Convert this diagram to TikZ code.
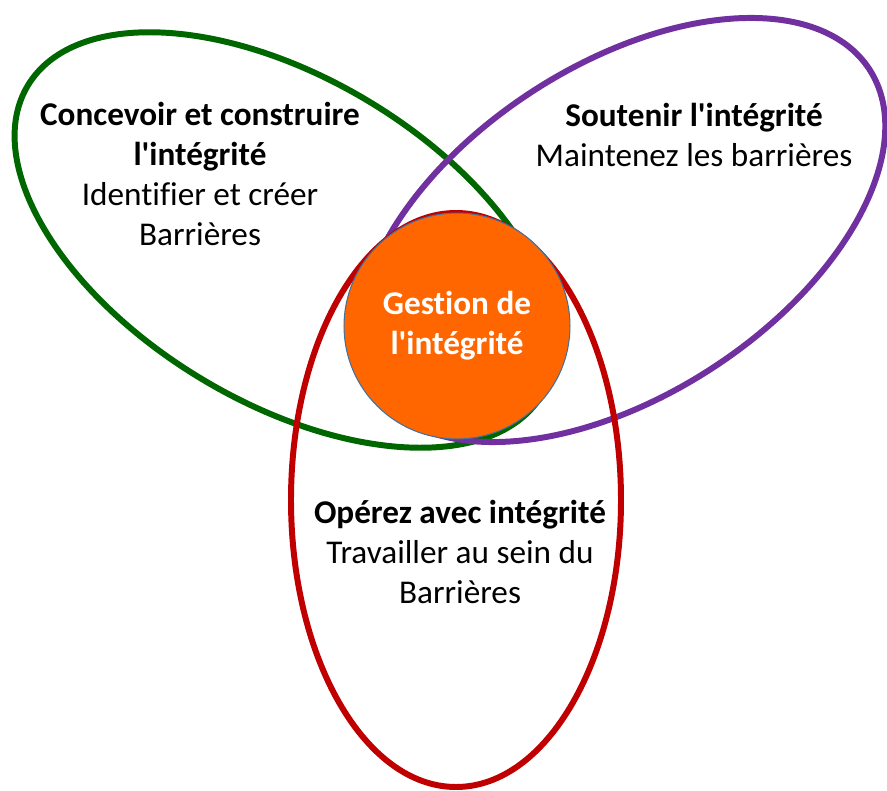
\documentclass[tikz,border=0pt]{standalone}
\usepackage{fontspec}
\setmainfont{Carlito}[Ligatures={NoCommon}]
\usepackage{tikz}
\usetikzlibrary{shapes}
\definecolor{designgreen}{HTML}{006600}
\definecolor{sustainpurple}{HTML}{7030A0}
\definecolor{operatered}{HTML}{C00000}
\definecolor{coreorange}{HTML}{FF6600}
\definecolor{coreedge}{HTML}{41719C}
\tikzstyle{ring}=[line width=3.4pt]
\tikzstyle{ringtext}=[align=center,inner sep=0pt,font=\fontsize{18.9}{22.7}\selectfont]
\tikzstyle{hub}=[circle,fill=coreorange,draw=coreedge,line width=0.6pt,minimum size=4.52cm,inner sep=0pt,text=white,align=center,font=\fontsize{18.9}{22.7}\selectfont\bfseries]

\begin{document}
\begin{tikzpicture}[x=0.02cm,y=-0.02cm]
    \useasboundingbox (0,0) rectangle (887,791);
    % Draw the three rings first
    \draw[ring,designgreen,rotate around={-31:(285,240)}] (285,240) ellipse (300 and 162);
    \draw[ring,sustainpurple,rotate around={33:(622,230)}] (622,230) ellipse (295 and 165);
    \draw[ring,operatered] (456,500) ellipse (165 and 287);
    % Then the hub on top
    \node[hub] (core) at (457,326) {Gestion de\\l\textquotesingle intégrité};
    % Texts inside the rings
    \node[ringtext] (design) at (200,174) {\textbf{Concevoir et construire}\\\textbf{l\textquotesingle intégrité}\\Identifier et créer\\Barrières};
    \node[ringtext] (sustain) at (694,135) {\textbf{Soutenir l\textquotesingle intégrité}\\Maintenez les barrières};
    \node[ringtext] (operate) at (460,552) {\textbf{Opérez avec intégrité}\\Travailler au sein du\\Barrières};
\end{tikzpicture}
\end{document}
